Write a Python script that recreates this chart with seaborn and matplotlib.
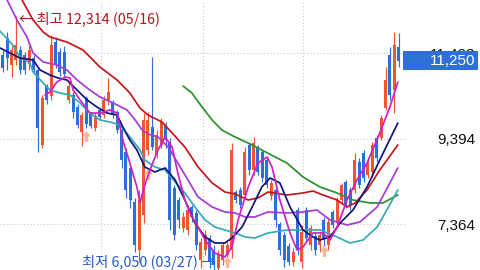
import numpy as np
import pandas as pd
import matplotlib
matplotlib.use("Agg")
import matplotlib.pyplot as plt
import matplotlib.transforms as mtransforms
from matplotlib.patches import Rectangle
from matplotlib.path import Path
import seaborn as sns

# ---------------- data (weekly candles, KRW) ----------------
opens = [11384, 11788, 11147, 11266, 11503, 11384, 11171, 11313, 11028, 9248,
         10648, 10411, 11693, 11456, 11456, 10316, 10435, 10150, 9556, 10364,
         9984, 9651, 10079, 9960, 10316, 10268, 10031, 9604, 9082, 8702,
         7895, 6755, 7586, 9129, 9675, 9010, 9248, 9722, 9319, 8227,
         7942, 7277, 7230, 7776, 7634, 6518, 6755, 7040, 6755, 6328,
         6518, 6636, 6755, 8132, 8179, 8061, 9248, 8654, 9177, 9082,
         8892, 8037, 8179, 7372, 7111, 6850, 6471, 7705, 6471, 7705,
         6874, 7087, 6874, 7467, 6874, 7657, 7420, 7942, 8369, 8179,
         8179, 8844, 9058, 8536, 8607, 9414, 9414, 10126, 11384, 10553,
         11574]
highs = [11503, 11930, 11598, 12314, 11598, 11456, 11669, 11384, 11076, 10435,
         10696, 11859, 11812, 11551, 11598, 10743, 10506, 10221, 10031, 10411,
         10031, 10007, 10126, 10411, 10838, 10316, 10079, 9651, 9177, 8773,
         7990, 8179, 10007, 10031, 11337, 9604, 9889, 9794, 9414, 8298,
         8013, 7657, 7823, 7823, 7705, 7040, 7230, 7111, 6874, 6755,
         6945, 6945, 9295, 8179, 8251, 9200, 9295, 9438, 9248, 9129,
         8963, 8417, 8227, 7420, 7182, 6921, 6802, 7776, 7349, 7776,
         7349, 7182, 7182, 7539, 7539, 7705, 8013, 8346, 8417, 8251,
         9058, 8939, 9129, 8892, 9319, 9485, 9960, 11099, 11574, 11930,
         11907]
lows = [10981, 11028, 10862, 11147, 10933, 10933, 11028, 10933, 9082, 9177,
        10221, 10316, 11076, 10886, 10886, 10245, 9889, 9651, 9224, 9651,
        9651, 9580, 9841, 9889, 10197, 9889, 9533, 8702, 7990, 7752,
        6708, 6471, 7396, 9010, 9129, 8939, 9177, 9177, 7230, 6992,
        7277, 7182, 7111, 7420, 6755, 6328, 6636, 6328, 6280, 6050,
        6399, 6565, 6565, 7871, 7752, 7990, 8536, 8536, 8536, 8369,
        8227, 7942, 7301, 6636, 6352, 6399, 6376, 6636, 6328, 6945,
        6755, 6636, 6708, 6802, 6755, 7277, 7349, 7823, 7752, 7705,
        8108, 8227, 8369, 8464, 8488, 8844, 9366, 10079, 10316, 10007,
        11099]
closes = [11076, 11313, 11503, 11622, 11028, 11028, 11503, 11028, 9651, 10364,
          10316, 11622, 11147, 10981, 10933, 10648, 10031, 9722, 9960, 9746,
          9699, 9936, 9912, 10316, 10506, 9960, 9604, 8892, 8179, 7942,
          6874, 7942, 9841, 9841, 9200, 9485, 9794, 9366, 7467, 7111,
          7467, 7539, 7705, 7539, 6874, 6945, 7111, 6471, 6399, 6636,
          6874, 6874, 9129, 7942, 7823, 9082, 8654, 9295, 8607, 8464,
          8298, 8346, 7467, 6755, 6518, 6471, 6708, 6755, 7182, 7040,
          7277, 6755, 7111, 6992, 7420, 7349, 7942, 8298, 7823, 7823,
          8892, 8298, 8464, 8820, 9248, 8939, 9889, 10791, 10435, 11622,
          11250]

# moving-average lines: position (candle number) and price
ma_red_x = [3.3, 4.4, 6.9, 9.2, 10.75, 14.6, 18.25, 22.1, 26.0, 28.9, 31.2, 33.0,
            36.2, 38.5, 41.4, 44.4, 47.6, 50.5, 52.8, 55.8, 58.0, 60.3, 64.6, 68.25,
            70.5, 72.8, 76.0, 78.25, 80.1, 82.8, 85.7, 89.8]
ma_red_y = [12950, 12690, 12215, 11930, 11812, 11693, 11503, 11099, 10791, 10482,
            10126, 9960, 9794, 9533, 9200, 8725, 8346, 8132, 8085, 7942, 7990, 8132,
            8061, 8108, 8156, 8061, 7942, 7776, 7871, 8179, 8654, 9248]

ma_purple_x = [0.5, 1.0, 3.25, 5.5, 6.9, 9.2, 12.3, 14.6, 16.9, 19.8, 22.1, 25.1,
               28.25, 30.1, 31.7, 33.0, 35.3, 37.6, 39.8, 42.1, 44.4, 47.6, 50.5,
               52.8, 55.1, 57.3, 60.3, 64.6, 68.25, 71.4, 74.4, 78.25, 81.2, 85.1, 89.8]
ma_purple_y = [12850, 12690, 12215, 11812, 11432, 11218, 11147, 11028, 10791, 10553,
               10387, 10245, 10079, 9841, 9604, 9509, 9438, 9200, 8820, 8417, 8013,
               7776, 7657, 7634, 7539, 7539, 7657, 7634, 7657, 7705, 7467, 7349, 7420,
               7776, 8702]

ma_navy_x = [-0.6, 1.66, 3.9, 6.9, 8.5, 10.75, 12.6, 14.6, 16.9, 19.2, 21.4, 23.7,
             26.0, 27.3, 28.9, 30.5, 32.3, 34.6, 36.9, 39.2, 41.4, 43.7, 46.0, 48.2,
             50.5, 52.1, 54.4, 56.7, 58.9, 60.75, 63.0, 65.3, 68.25, 70.5, 72.1, 74.4,
             76.7, 79.6, 82.8, 85.7, 89.8]
ma_navy_y = [11551, 11432, 11313, 11266, 11028, 10909, 10838, 10791, 10553, 10316,
             10150, 10007, 9960, 9675, 9366, 9129, 8725, 8607, 8702, 8417, 7942, 7396,
             7064, 6921, 6921, 7040, 7301, 7776, 8251, 8464, 8346, 7776, 7230, 7064,
             6992, 7064, 7396, 7705, 8251, 8892, 9770]

ma_teal_x = [-0.6, 2.3, 3.9, 6.2, 6.9, 9.2, 10.75, 13.0, 15.3, 17.6, 19.8, 22.1,
             24.4, 26.7, 28.9, 31.2, 32.3, 34.6, 36.9, 39.2, 41.4, 43.7, 46.0, 48.2,
             50.5, 52.8, 55.1, 57.3, 60.3, 64.6, 68.25, 72.1, 76.0, 78.9, 81.9, 85.1,
             87.3, 89.8]
ma_teal_y = [11950, 11622, 11337, 11194, 10981, 10720, 10553, 10482, 10435, 10245,
             10007, 9841, 9794, 9722, 9438, 9129, 8892, 8725, 8654, 8369, 8108, 7776,
             7467, 7301, 7230, 7159, 7064, 7040, 7159, 7230, 7230, 7230, 7064, 6921,
             6992, 7301, 7705, 8179]

ma_mag_x = [9.6, 10.75, 12.3, 14.2, 15.3, 16.0, 17.6, 19.8, 22.1, 24.4, 26.0, 27.3,
            28.9, 30.5, 31.2, 32.3, 33.9, 35.3, 36.9, 38.5, 39.8, 41.4, 43.0, 44.4,
            46.0, 48.2, 50.5, 52.1, 53.5, 55.8, 58.0, 60.1, 61.2, 63.0, 65.3, 66.9,
            68.25, 70.5, 72.8, 74.4, 76.0, 78.25, 80.5, 82.8, 85.7, 88.0, 89.8]
ma_mag_y = [10435, 10506, 10743, 10862, 10838, 10553, 10316, 10007, 10007, 10079,
            10007, 9366, 8820, 8251, 7871, 8298, 8773, 9129, 9438, 9200, 8583, 7942,
            7539, 7301, 6992, 6684, 6589, 6826, 7467, 8251, 8820, 8963, 8726, 7942,
            7159, 6755, 6826, 7159, 7159, 6992, 7301, 7942, 8417, 8820, 9533, 10150,
            10743]

ma_green_x = [41.0, 43.0, 45.3, 47.6, 49.8, 52.8, 55.8, 58.9, 61.9, 64.6, 68.25,
              72.1, 76.0, 79.6, 83.5, 86.4, 89.8]
ma_green_y = [10648, 10482, 10150, 9841, 9604, 9438, 9295, 9129, 8963, 8820, 8488,
              8251, 8108, 7942, 7871, 7871, 8061]

signal_idx = [19, 33, 51, 73]
signal_price = [9460, 8560, 6470, 6730]

price_ticks = [7364, 9394, 11423]
grid_x = [22.34, 45.52, 68.25]
last_price = 11250
high_text = "← 최고 12,314 (05/16)"
low_text = "최저 6,050 (03/27) →"

# ---------------- styling ----------------
sns.set_theme(style="white")
plt.rcParams['font.family'] = ['Liberation Sans', 'Noto Sans CJK KR', 'DejaVu Sans']

UP = "#ee5530"
DOWN = "#2c6fdc"
KFONT = ['Noto Sans CJK KR', 'DejaVu Sans']

fig = plt.figure(figsize=(4.8, 2.7), dpi=100)
ax = fig.add_axes([0, 0, 405 / 480, 1])
ax.set_facecolor("white")

df = pd.DataFrame({"o": opens, "h": highs, "l": lows, "c": closes})
df["i"] = np.arange(len(df))
df["up"] = df["c"] >= df["o"]
df["col"] = np.where(df["up"], UP, DOWN)

# candles
ax.vlines(df["i"], df["l"], df["h"], colors=df["col"], linewidth=0.85, zorder=2)
body_h = np.maximum((df["c"] - df["o"]).abs(), 25)
ax.bar(df["i"], body_h, bottom=np.minimum(df["o"], df["c"]), width=0.68,
       color=df["col"], linewidth=0, zorder=2)

# signal arrows
arrow = Path([(-0.33, -1), (0.33, -1), (0.33, 0), (0.85, 0), (0, 1),
              (-0.85, 0), (-0.33, 0), (-0.33, -1)])
ax.scatter(signal_idx, signal_price, marker=arrow, s=60, color="#f7b892",
           linewidths=0, zorder=3)

# moving averages
lines = [
    (ma_green_x, ma_green_y, "#2f8f2f"),
    (ma_red_x, ma_red_y, "#c3161b"),
    (ma_purple_x, ma_purple_y, "#a43bd6"),
    (ma_teal_x, ma_teal_y, "#38a9b6"),
    (ma_navy_x, ma_navy_y, "#10157d"),
    (ma_mag_x, ma_mag_y, "#d21fc8"),
]
for xs, ys, col in lines:
    sns.lineplot(x=xs, y=ys, ax=ax, color=col, linewidth=1.25, zorder=4,
                 estimator=None, sort=False)

ax.set_xlim(-0.614, 91.43)
ax.set_ylim(6280, 12690)

# grid
ax.set_xticks(grid_x)
ax.set_xticklabels([])
ax.set_yticks(price_ticks)
ax.set_yticklabels([f"{v:,}" for v in price_ticks])
ax.yaxis.tick_right()
ax.tick_params(axis="y", length=0, pad=50.4, labelsize=11, labelcolor="#111111")
ax.tick_params(axis="x", length=0)
for lab in ax.get_yticklabels():
    lab.set_horizontalalignment("right")
ax.grid(True, color="#c8c8c8", linestyle=(0, (1, 2)), linewidth=0.8)
ax.set_axisbelow(True)
for s in ax.spines.values():
    s.set_visible(False)

# last price box (covers the lower half of the 11,423 label, as in the original)
trans = mtransforms.blended_transform_factory(fig.transFigure, ax.transData)
box_h = 19 * (12690 - 6280) / 270
ax.add_patch(Rectangle((403 / 480, last_price - box_h / 2), 75 / 480, box_h,
                       transform=trans, facecolor="#2f6fd8", edgecolor="none",
                       clip_on=False, zorder=10))
ax.text(475 / 480, last_price, f"{last_price:,}", transform=trans, ha="right",
        va="center", color="white", fontsize=11, clip_on=False, zorder=11)

# high / low annotations
hi_i = int(np.argmax(highs))
ax.annotate(high_text, xy=(hi_i, highs[hi_i]), xytext=(3, -4),
            textcoords="offset pixels", ha="left", va="center",
            color="#b3151a", fontsize=10.3, family=KFONT, zorder=12)
lo_i = int(np.argmin(lows))
ax.annotate(low_text, xy=(lo_i, 6280), xytext=(-3, 7),
            textcoords="offset pixels", ha="right", va="center",
            color="#2a5bc9", fontsize=10.3, family=KFONT, zorder=12)

fig.savefig("out.png", dpi=100, facecolor="white")
